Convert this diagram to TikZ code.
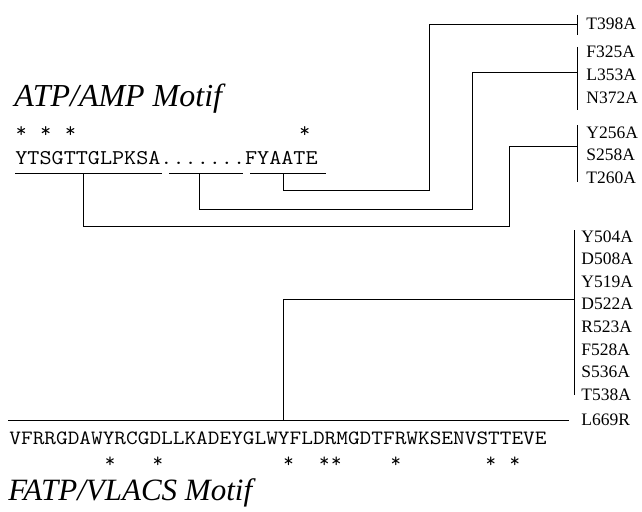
\documentclass[tikz,border=0pt]{standalone}
\usepackage{fontspec}
\setmainfont{Liberation Serif}
\begin{document}
\begin{tikzpicture}[x=1pt,y=-1pt,line width=0.8pt,
  lbl/.style={anchor=base west,inner sep=0pt,font=\fontsize{17.5}{20}\selectfont},
  seqa/.style={anchor=base west,inner sep=0pt,font=\ttfamily\fontsize{21}{24}\selectfont},
  seqb/.style={anchor=base west,inner sep=0pt,font=\ttfamily\fontsize{20.3}{24}\selectfont},
  stara/.style={anchor=base,inner sep=0pt,font=\ttfamily\fontsize{21}{24}\selectfont},
  starb/.style={anchor=base,inner sep=0pt,font=\ttfamily\fontsize{20.3}{24}\selectfont},
  ttl/.style={anchor=base west,inner sep=0pt,font=\itshape\fontsize{31}{36}\selectfont}]
\useasboundingbox (0,0) rectangle (642,511);
% titles
\node[ttl,font=\itshape\fontsize{32}{36}\selectfont] (t1) at (14,106) {ATP/AMP Motif};
\node[ttl] (t2) at (8,500) {FATP/VLACS Motif};
% top sequence
\node[seqa] (s1) at (15,164) {\scalebox{1.118}[1]{YTSGTTGLPKSA.......FYAATE}};
\foreach \i [count=\k] in {0,2,4,23} \node[stara] (sa\k) at ({15+(\i+0.5)*12.33},137) {*};
% bottom sequence
\node[seqb] (s2) at (9,444) {\scalebox{1.117}[1]{VFRRGDAWYRCGDLLKADEYGLWYFLDRMGDTFRWKSENVSTTEVE}};
\foreach \i [count=\k] in {8,12,23,26,27,32,40,42} \node[starb] (sb\k) at ({9+(\i+0.5)*11.9},467) {*};
% underlines
\coordinate (u1a) at (15,173); \coordinate (u1b) at (162,173);
\coordinate (u2a) at (169,173); \coordinate (u2b) at (243,173);
\coordinate (u3a) at (250,173); \coordinate (u3b) at (326,173);
\draw (u1a) -- (u1b); \draw (u2a) -- (u2b); \draw (u3a) -- (u3b);
% labels
\node[lbl] (T398) at (586,30) {T398A};
\node[lbl] (F325) at (586,58) {F325A};
\node[lbl] (L353) at (586,80.5) {L353A};
\node[lbl] (N372) at (586,103) {N372A};
\node[lbl] (Y256) at (586,138) {Y256A};
\node[lbl] (S258) at (586,160.5) {S258A};
\node[lbl] (T260) at (586,183) {T260A};
\foreach \n/\t [count=\k from 0] in {Y504/Y504A,D508/D508A,Y519/Y519A,D522/D522A,R523/R523A,F528/F528A,S536/S536A,T538/T538A}
  \node[lbl] (\n) at (581,{242+\k*22.6}) {\t};
\node[lbl] (L669) at (581,425) {L669R};
% bars
\coordinate (b1t) at (577,15); \coordinate (b1b) at (577,35);
\coordinate (b2t) at (577,47); \coordinate (b2b) at (577,110);
\coordinate (b3t) at (577,125); \coordinate (b3b) at (577,182);
\coordinate (b4t) at (574,230); \coordinate (b4b) at (574,395);
\draw (b1t) -- (b1b); \draw (b2t) -- (b2b); \draw (b3t) -- (b3b); \draw (b4t) -- (b4b);
% connectors
\coordinate (c1) at (283,173); \coordinate (e1) at (577,24);
\draw (c1) -- (283,190) -- (429,190) -- (429,24) -- (e1);
\coordinate (c2) at (199,173); \coordinate (e2) at (577,72);
\draw (c2) -- (199,209) -- (472,209) -- (472,72) -- (e2);
\coordinate (c3) at (83,173); \coordinate (e3) at (577,146);
\draw (c3) -- (83,226) -- (509,226) -- (509,146) -- (e3);
% bottom line
\coordinate (la) at (8,420); \coordinate (lb) at (569,420);
\draw (la) -- (lb);
\coordinate (c4) at (283,420); \coordinate (e4) at (574,299);
\draw (c4) -- (283,299) -- (e4);
\end{tikzpicture}
\end{document}
